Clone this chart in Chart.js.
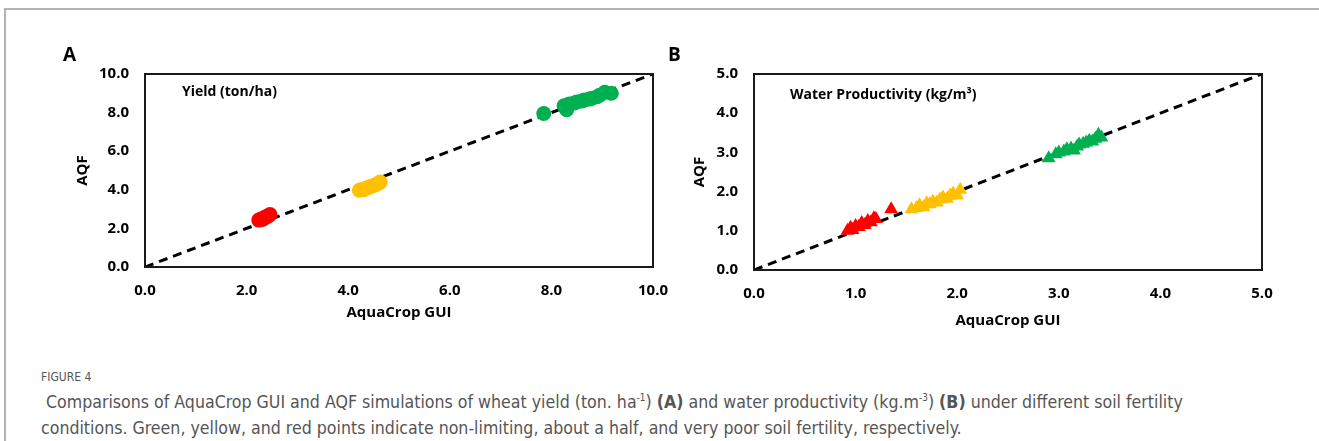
<!DOCTYPE html>
<html>
<head>
<meta charset="utf-8">
<script src="https://cdn.jsdelivr.net/npm/chart.js@4"></script>
<style>
    body { margin: 0; background: #fff; width: 1319px; height: 441px; overflow: hidden; position: relative; font-family: 'Open Sans', sans-serif; }
    .frame-top { position: absolute; left: 5px; top: 8px; width: 1314px; height: 2px; background: #b3b3b3; }
    .frame-left { position: absolute; left: 4px; top: 8px; width: 2px; height: 433px; background: #b3b3b3; }
    canvas { position: absolute; }
    .panel { position: absolute; font-weight: bold; font-size: 19px; color: #000; }
    .inner { position: absolute; font-weight: bold; font-size: 14px; color: #000; }
    .fig { position: absolute; left: 41px; top: 370px; font-family: 'Liberation Sans Narrow', 'DejaVu Sans Condensed', sans-serif; font-size: 12px; color: #555; }
    .caption { position: absolute; left: 41px; top: 389px; width: 1260px; font-family: 'Liberation Sans Narrow', 'DejaVu Sans Condensed', sans-serif; font-size: 17.6px; line-height: 26px; color: #555; }
    .caption sup { font-size: 10px; line-height: 0; }
    .caption b { color: #555; }
</style>
</head>
<body>
<div class="frame-top"></div>
<div class="frame-left"></div>

<canvas id="chart-a" width="700" height="340" style="left:0; top:0;"></canvas>
<canvas id="chart-b" width="700" height="340" style="left:620px; top:0;"></canvas>

<div class="panel" style="left:63px; top:41px;">A</div>
<div class="panel" style="left:668px; top:41px;">B</div>
<div class="inner" style="left:182px; top:81px;">Yield (ton/ha)</div>
<div class="inner" style="left:790px; top:84px;">Water Productivity (kg/m³)</div>

<div class="fig">FIGURE 4</div>
<div class="caption">&nbsp;Comparisons of AquaCrop GUI and AQF simulations of wheat yield (ton. ha<sup>-1</sup>) <b>(A)</b> and water productivity (kg.m<sup>-3</sup>) <b>(B)</b> under different soil fertility<br>conditions. Green, yellow, and red points indicate non-limiting, about a half, and very poor soil fertility, respectively.</div>

<script>
// Colours
const GREEN = '#00B050';
const YELLOW = '#FFC000';
const RED = '#FF0000';

// Panel A - yield (ton/ha)
const yieldRedGui = [2.24, 2.27, 2.3, 2.32, 2.35, 2.38, 2.41, 2.44, 2.46];
const yieldRedAqf = [2.43, 2.46, 2.5, 2.48, 2.55, 2.6, 2.62, 2.67, 2.72];
const yieldYellowGui = [4.22, 4.27, 4.3, 4.35, 4.4, 4.45, 4.5, 4.55, 4.6, 4.63];
const yieldYellowAqf = [3.98, 4.02, 4.0, 4.08, 4.12, 4.18, 4.22, 4.28, 4.35, 4.4];
const yieldGreenGui = [7.85, 8.25, 8.3, 8.35, 8.45, 8.5, 8.6, 8.65, 8.75, 8.8, 8.9, 8.95, 9.05, 9.18];
const yieldGreenAqf = [7.95, 8.35, 8.15, 8.45, 8.5, 8.55, 8.6, 8.65, 8.7, 8.75, 8.82, 8.9, 9.05, 9.0];

// Panel B - water productivity (kg/m3)
const wpRedGui = [0.92, 0.95, 0.97, 1.0, 1.03, 1.06, 1.09, 1.12, 1.15, 1.18, 1.2, 1.35];
const wpRedAqf = [1.0, 1.08, 1.02, 1.12, 1.1, 1.2, 1.15, 1.25, 1.22, 1.32, 1.3, 1.55];
const wpYellowGui = [1.55, 1.6, 1.63, 1.67, 1.7, 1.73, 1.76, 1.8, 1.83, 1.86, 1.9, 1.93, 1.96, 2.0, 2.03];
const wpYellowAqf = [1.55, 1.58, 1.65, 1.6, 1.7, 1.68, 1.75, 1.72, 1.8, 1.85, 1.82, 1.9, 1.95, 1.9, 2.05];
const wpGreenGui = [2.9, 2.97, 3.0, 3.05, 3.08, 3.12, 3.15, 3.18, 3.2, 3.24, 3.27, 3.3, 3.33, 3.36, 3.39, 3.42];
const wpGreenAqf = [2.85, 2.95, 3.0, 3.02, 3.08, 3.1, 3.05, 3.15, 3.2, 3.22, 3.25, 3.3, 3.28, 3.35, 3.45, 3.38];

// Axis ticks
const yieldTicks = [0, 2, 4, 6, 8, 10];
const wpTicks = [0, 1, 2, 3, 4, 5];

Chart.defaults.font.family = "'Open Sans', sans-serif";
Chart.defaults.color = '#000';

function toPoints(xs, ys) {
    return xs.map((x, i) => ({ x: x, y: ys[i] }));
}

// Draw the box round the plot area
const frameBox = {
    id: 'frameBox',
    afterDatasetsDraw(chart) {
        const { ctx, chartArea } = chart;
        ctx.save();
        ctx.strokeStyle = '#1a1a1a';
        ctx.lineWidth = 2;
        ctx.strokeRect(chartArea.left, chartArea.top, chartArea.right - chartArea.left, chartArea.bottom - chartArea.top);
        ctx.restore();
    }
};

function buildChart(canvas, cfg) {
    const pointSet = (xs, ys, color) => ({
        data: toPoints(xs, ys),
        backgroundColor: color,
        borderWidth: 0,
        pointStyle: cfg.pointStyle,
        pointRadius: cfg.radius,
        showLine: false,
        order: 1
    });

    return new Chart(canvas, {
        type: 'scatter',
        data: {
            datasets: [
                {
                    data: [{ x: 0, y: 0 }, { x: cfg.max, y: cfg.max }],
                    showLine: true,
                    borderColor: '#000',
                    borderWidth: 3,
                    borderDash: [9, 6],
                    pointRadius: 0,
                    order: 2
                },
                pointSet(cfg.redX, cfg.redY, RED),
                pointSet(cfg.yellowX, cfg.yellowY, YELLOW),
                pointSet(cfg.greenX, cfg.greenY, GREEN)
            ]
        },
        options: {
            responsive: false,
            animation: false,
            layout: { padding: { left: 0, top: 74, right: cfg.padRight, bottom: 0 } },
            plugins: { legend: { display: false }, tooltip: { enabled: false } },
            scales: {
                x: {
                    type: 'linear',
                    min: 0,
                    max: cfg.max,
                    afterBuildTicks: s => { s.ticks = cfg.ticks.map(v => ({ value: v })); },
                    afterFit: s => { s.height = cfg.xHeight; },
                    grid: { display: false, drawTicks: false },
                    border: { display: false },
                    ticks: { padding: 15, font: { size: 15, weight: 'bold' }, callback: v => v.toFixed(1) },
                    title: { display: true, text: 'AquaCrop GUI', font: { size: 15, weight: 'bold' }, padding: { bottom: cfg.xTitlePad } }
                },
                y: {
                    type: 'linear',
                    min: 0,
                    max: cfg.max,
                    afterBuildTicks: s => { s.ticks = cfg.ticks.map(v => ({ value: v })); },
                    afterFit: s => { s.width = cfg.yWidth; },
                    grid: { display: false, drawTicks: false },
                    border: { display: false },
                    ticks: { padding: 16, font: { size: 15, weight: 'bold' }, callback: v => v.toFixed(1) },
                    title: { display: true, text: 'AQF', font: { size: 15, weight: 'bold' }, padding: { top: cfg.yTitlePad } }
                }
            }
        },
        plugins: [frameBox]
    });
}

buildChart(document.getElementById('chart-a'), {
    max: 10, ticks: yieldTicks, pointStyle: 'circle', radius: 7.5,
    redX: yieldRedGui, redY: yieldRedAqf,
    yellowX: yieldYellowGui, yellowY: yieldYellowAqf,
    greenX: yieldGreenGui, greenY: yieldGreenAqf,
    yWidth: 145, xHeight: 73, padRight: 47, xTitlePad: 18, yTitlePad: 74
});

buildChart(document.getElementById('chart-b'), {
    max: 5, ticks: wpTicks, pointStyle: 'triangle', radius: 8,
    redX: wpRedGui, redY: wpRedAqf,
    yellowX: wpYellowGui, yellowY: wpYellowAqf,
    greenX: wpGreenGui, greenY: wpGreenAqf,
    yWidth: 134, xHeight: 70, padRight: 58, xTitlePad: 10, yTitlePad: 71
});
</script>
</body>
</html>
